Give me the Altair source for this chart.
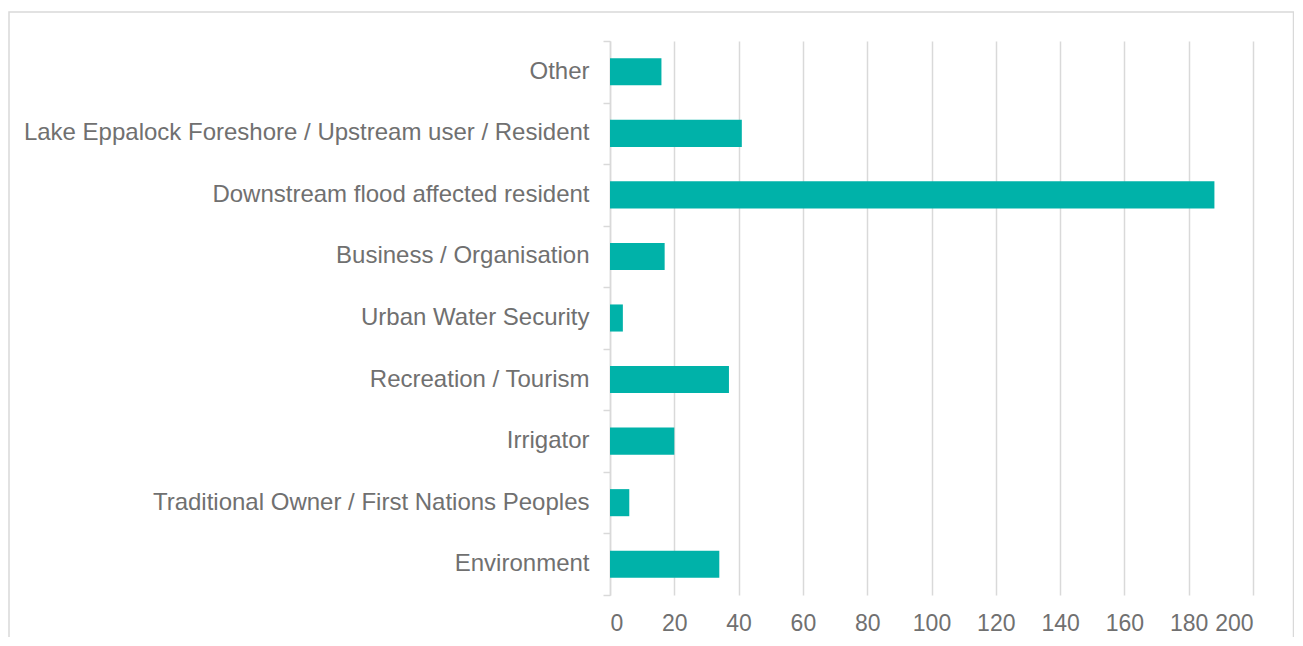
import altair as alt
import pandas as pd

categories = [
    "Other",
    "Lake Eppalock Foreshore / Upstream user / Resident",
    "Downstream flood affected resident",
    "Business / Organisation",
    "Urban Water Security",
    "Recreation / Tourism",
    "Irrigator",
    "Traditional Owner / First Nations Peoples",
    "Environment",
]
values = [16, 41, 188, 17, 4, 37, 20, 6, 34]
x_ticks = [0, 20, 40, 60, 80, 100, 120, 140, 160, 180, 200]
boundaries = list(range(len(categories) + 1))

df = pd.DataFrame({"category": categories, "value": values})
bdf = pd.DataFrame({"b": boundaries})
frame_df = pd.DataFrame({"f": [0]})

W, H = 643, 554
FONT = "Liberation Sans"
TXT = "#707070"
GRID = "#D9D9D9"

bars = alt.Chart(df).mark_bar(color="#00B2A9").encode(
    x=alt.X(
        "value:Q",
        scale=alt.Scale(domain=[0, 200], nice=False),
        axis=alt.Axis(
            values=x_ticks, grid=True, gridColor=GRID, gridWidth=1.5,
            domain=False, ticks=False, tickSize=0, labelFontSize=23,
            labelColor=TXT, labelFont=FONT, labelPadding=17, title=None,
        ),
    ),
    y=alt.Y(
        "category:N",
        sort=categories,
        scale=alt.Scale(paddingInner=0.56, paddingOuter=0.28),
        axis=alt.Axis(
            orient="left", domain=False, ticks=False, tickSize=0,
            labelFontSize=24, labelColor=TXT, labelFont=FONT,
            labelPadding=21, title=None, labelLimit=700,
        ),
    ),
)

tick_layer = alt.Chart(bdf).mark_point(opacity=0).encode(
    y=alt.Y(
        "b:Q",
        scale=alt.Scale(domain=[0, len(categories)], nice=False),
        axis=alt.Axis(
            orient="left", values=boundaries, labels=False, grid=False,
            domain=True, domainColor=GRID, domainWidth=1.5,
            ticks=True, tickColor=GRID, tickSize=7, tickWidth=1.5, title=None,
        ),
    ),
)

frame = alt.Chart(frame_df).mark_rect(
    fill="transparent", stroke=GRID, strokeWidth=1.5
).encode(
    x=alt.value(-601), x2=alt.value(683.5),
    y=alt.value(-29), y2=alt.value(700),
)

chart = (
    alt.layer(frame, bars, tick_layer)
    .resolve_scale(y="independent")
    .resolve_axis(y="independent")
    .properties(
        width=W, height=H,
        autosize=alt.AutoSizeParams(type="none"),
        padding={"left": 602, "top": 33, "right": 41, "bottom": 42},
        background="white",
    )
    .configure_view(strokeWidth=0)
)

chart.save("out.html", embed_options={"renderer": "svg", "actions": False})
